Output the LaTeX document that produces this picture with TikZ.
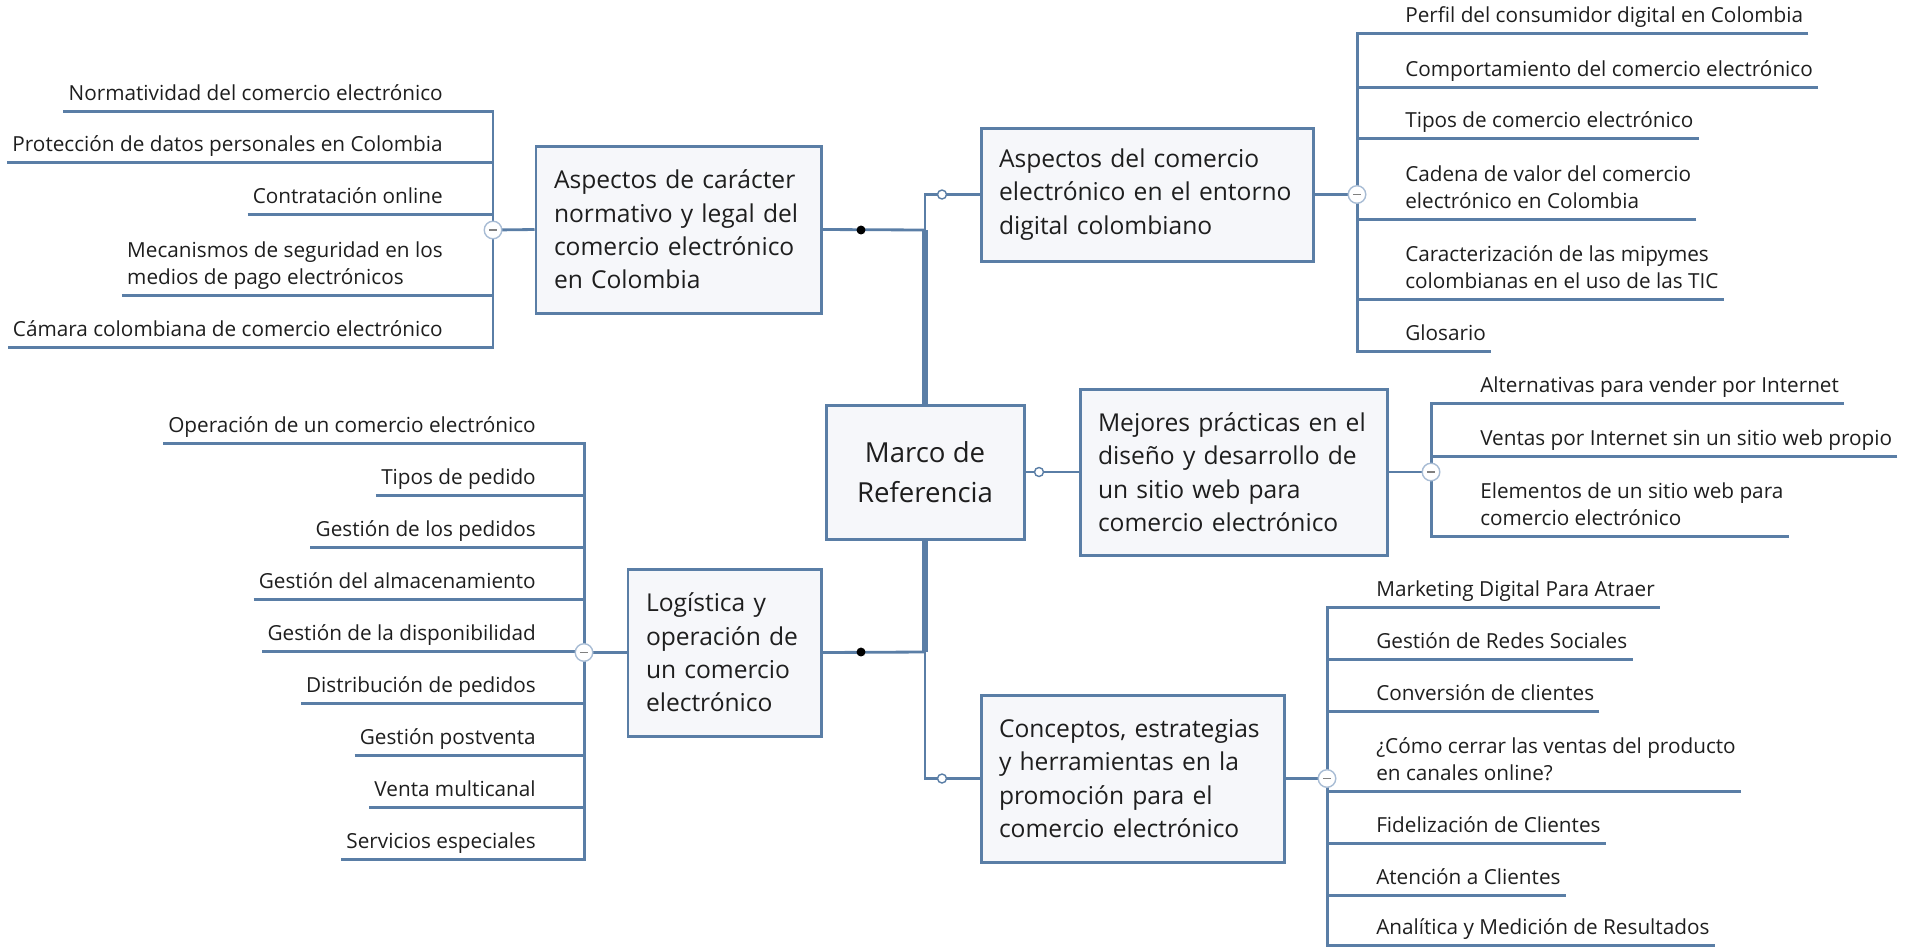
\documentclass[tikz,border=0pt]{standalone}
\usepackage{fontspec}
\setmainfont{Open Sans}
\usepackage{tikz}
\usetikzlibrary{positioning, calc, shapes.geometric}
\definecolor{mmblue}{RGB}{90,126,166}
\definecolor{mmfill}{RGB}{246,247,250}
\definecolor{mmfold}{RGB}{168,188,212}
\definecolor{mmtext}{RGB}{30,30,30}
\tikzset{rootbox/.style={draw=mmblue, line width=1.7pt, fill=mmfill, text=mmtext, align=center, minimum width=3.96cm, minimum height=2.68cm, font=\fontsize{15.7}{22.7}\selectfont}}
\tikzset{topicbox/.style={draw=mmblue, line width=1.7pt, fill=mmfill, text=mmtext, align=left, inner xsep=0.36cm, minimum height=3.34cm, font=\fontsize{14}{19}\selectfont}}
\tikzset{subtopic/.style={inner xsep=2.8pt, inner ysep=1.2pt, align=left, text=mmtext, font=\fontsize{11.8}{15.4}\selectfont, execute at end node=\strut}}
\tikzset{trunk/.style={draw=mmblue, line width=3.6pt}}
\tikzset{link/.style={draw=mmblue, line width=1.6pt}}
\tikzset{sublink/.style={draw=mmblue, line width=1.7pt}}
\tikzset{knob/.style={circle, draw=mmblue, fill=white, line width=0.8pt, minimum size=5.1pt, inner sep=0pt}}
\tikzset{bdot/.style={circle, fill=black, minimum size=5.1pt, inner sep=0pt}}
\tikzset{fold/.style={circle, draw=mmfold, fill=white, line width=0.8pt, minimum size=10pt, inner sep=0pt,
	path picture={\draw[gray, line width=0.6pt] ([xshift=-2.4pt]path picture bounding box.center) -- ([xshift=2.4pt]path picture bounding box.center);}}}

\begin{document}
\begin{tikzpicture}[x=0.2mm, y=-0.2mm]
	\useasboundingbox (0,0) rectangle (1913,946);

	% main topics
	\node[rootbox] (marco) at (925,472) {Marco de\\Referencia};
	\node[topicbox, text width=4.98cm] (normativo) at (678.5,229.5) {Aspectos de carácter\\normativo y legal del\\comercio electrónico\\en Colombia};
	\node[topicbox, text width=5.92cm, minimum height=2.66cm] (entorno) at (1147,194.5) {Aspectos del comercio\\electrónico en el entorno\\digital colombiano};
	\node[topicbox, text width=5.42cm, minimum height=3.32cm] (practicas) at (1233.5,472) {Mejores prácticas en el\\diseño y desarrollo de\\un sitio web para\\comercio electrónico};
	\node[topicbox, text width=3.14cm] (logistica) at (724.5,652.5) {Logística y\\operación de\\un comercio\\electrónico};
	\node[topicbox, text width=5.34cm] (promocion) at (1132.5,778.5) {Conceptos, estrategias\\y herramientas en la\\promoción para el\\comercio electrónico};

	% subtopics, upper left
	\node[subtopic, anchor=south east] (nw1) at (448,111) {Normatividad del comercio electrónico};
	\node[subtopic, anchor=south east] (nw2) at (448,162) {Protección de datos personales en Colombia};
	\node[subtopic, anchor=south east] (nw3) at (448,214) {Contratación online};
	\node[subtopic, anchor=south east] (nw4) at (448,295) {Mecanismos de seguridad en los\\medios de pago electrónicos};
	\node[subtopic, anchor=south east] (nw5) at (448,347) {Cámara colombiana de comercio electrónico};

	% subtopics, upper right
	\node[subtopic, anchor=south west] (ne1) at (1400,33) {Perfil del consumidor digital en Colombia};
	\node[subtopic, anchor=south west] (ne2) at (1400,87) {Comportamiento del comercio electrónico};
	\node[subtopic, anchor=south west] (ne3) at (1400,138) {Tipos de comercio electrónico};
	\node[subtopic, anchor=south west] (ne4) at (1400,219) {Cadena de valor del comercio\\electrónico en Colombia};
	\node[subtopic, anchor=south west] (ne5) at (1400,299) {Caracterización de las mipymes\\colombianas en el uso de las TIC};
	\node[subtopic, anchor=south west] (ne6) at (1400,351) {Glosario};

	% subtopics, right
	\node[subtopic, anchor=south west] (e1) at (1475,403) {Alternativas para vender por Internet};
	\node[subtopic, anchor=south west] (e2) at (1475,456) {Ventas por Internet sin un sitio web propio};
	\node[subtopic, anchor=south west] (e3) at (1475,536) {Elementos de un sitio web para\\comercio electrónico};

	% subtopics, lower right
	\node[subtopic, anchor=south west] (se1) at (1371,607) {Marketing Digital Para Atraer};
	\node[subtopic, anchor=south west] (se2) at (1371,659) {Gestión de Redes Sociales};
	\node[subtopic, anchor=south west] (se3) at (1371,711) {Conversión de clientes};
	\node[subtopic, anchor=south west] (se4) at (1371,791) {¿Cómo cerrar las ventas del producto\\en canales online?};
	\node[subtopic, anchor=south west] (se5) at (1371,843) {Fidelización de Clientes};
	\node[subtopic, anchor=south west] (se6) at (1371,895) {Atención a Clientes};
	\node[subtopic, anchor=south west] (se7) at (1371,945) {Analítica y Medición de Resultados};

	% subtopics, lower left
	\node[subtopic, anchor=south east] (sw1) at (541,443) {Operación de un comercio electrónico};
	\node[subtopic, anchor=south east] (sw2) at (541,495) {Tipos de pedido};
	\node[subtopic, anchor=south east] (sw3) at (541,547) {Gestión de los pedidos};
	\node[subtopic, anchor=south east] (sw4) at (541,599) {Gestión del almacenamiento};
	\node[subtopic, anchor=south east] (sw5) at (541,651) {Gestión de la disponibilidad};
	\node[subtopic, anchor=south east] (sw6) at (541,703) {Distribución de pedidos};
	\node[subtopic, anchor=south east] (sw7) at (541,755) {Gestión postventa};
	\node[subtopic, anchor=south east] (sw8) at (541,807) {Venta multicanal};
	\node[subtopic, anchor=south east] (sw9) at (541,859) {Servicios especiales};

	% trunk and branches
	\coordinate (jn) at (925,230);
	\coordinate (js) at (925,652);
	\draw[trunk] (marco.north) -- (jn);
	\draw[trunk] (marco.south) -- (js);
	\draw[link] (jn) |- (entorno.west);
	\draw[link] (js) |- (promocion.west);
	\draw[link] (normativo.east) -- (jn);
	\draw[link] (logistica.east) -- (js);
	\draw[link] (marco.east) -- (practicas.west);

	\coordinate (nwbar) at (493,230);
	\coordinate (nebar) at (1357,194.5);
	\coordinate (ebar) at (1431,472);
	\coordinate (sebar) at (1327,778.5);
	\coordinate (swbar) at (584,652.5);
	\draw[link] (normativo.west) -- (nwbar);
	\draw[link] (entorno.east) -- (nebar);
	\draw[link] (practicas.east) -- (ebar);
	\draw[link] (promocion.east) -- (sebar);
	\draw[link] (logistica.west) -- (swbar);

	\draw[sublink] (nw1.south west) -| (nw5.south -| nwbar) -- (nw5.south west);
	\draw[sublink] (nw2.south west) -- (nw2.south -| nwbar);
	\draw[sublink] (nw3.south west) -- (nw3.south -| nwbar);
	\draw[sublink] (nw4.south west) -- (nw4.south -| nwbar);

	\draw[sublink] (ne1.south east) -| (ne6.south -| nebar) -- (ne6.south east);
	\draw[sublink] (ne2.south east) -- (ne2.south -| nebar);
	\draw[sublink] (ne3.south east) -- (ne3.south -| nebar);
	\draw[sublink] (ne4.south east) -- (ne4.south -| nebar);
	\draw[sublink] (ne5.south east) -- (ne5.south -| nebar);

	\draw[sublink] (e1.south east) -| (e3.south -| ebar) -- (e3.south east);
	\draw[sublink] (e2.south east) -- (e2.south -| ebar);

	\draw[sublink] (se1.south east) -| (se7.south -| sebar) -- (se7.south east);
	\draw[sublink] (se2.south east) -- (se2.south -| sebar);
	\draw[sublink] (se3.south east) -- (se3.south -| sebar);
	\draw[sublink] (se4.south east) -- (se4.south -| sebar);
	\draw[sublink] (se5.south east) -- (se5.south -| sebar);
	\draw[sublink] (se6.south east) -- (se6.south -| sebar);

	\draw[sublink] (sw1.south west) -| (sw9.south -| swbar) -- (sw9.south west);
	\draw[sublink] (sw2.south west) -- (sw2.south -| swbar);
	\draw[sublink] (sw3.south west) -- (sw3.south -| swbar);
	\draw[sublink] (sw4.south west) -- (sw4.south -| swbar);
	\draw[sublink] (sw5.south west) -- (sw5.south -| swbar);
	\draw[sublink] (sw6.south west) -- (sw6.south -| swbar);
	\draw[sublink] (sw7.south west) -- (sw7.south -| swbar);
	\draw[sublink] (sw8.south west) -- (sw8.south -| swbar);

	% markers
	\node[fold] (nwfold) at (nwbar) {};
	\node[fold] (nefold) at (nebar) {};
	\node[fold] (efold) at (ebar) {};
	\node[fold] (sefold) at (sebar) {};
	\node[fold] (swfold) at (swbar) {};
	\node[knob] (nknob) at (942,194.5) {};
	\node[knob] (eknob) at (1039,472) {};
	\node[knob] (sknob) at (942,778.5) {};
	\node[bdot] (ndot) at (861,230) {};
	\node[bdot] (sdot) at (861,652) {};
\end{tikzpicture}
\end{document}
